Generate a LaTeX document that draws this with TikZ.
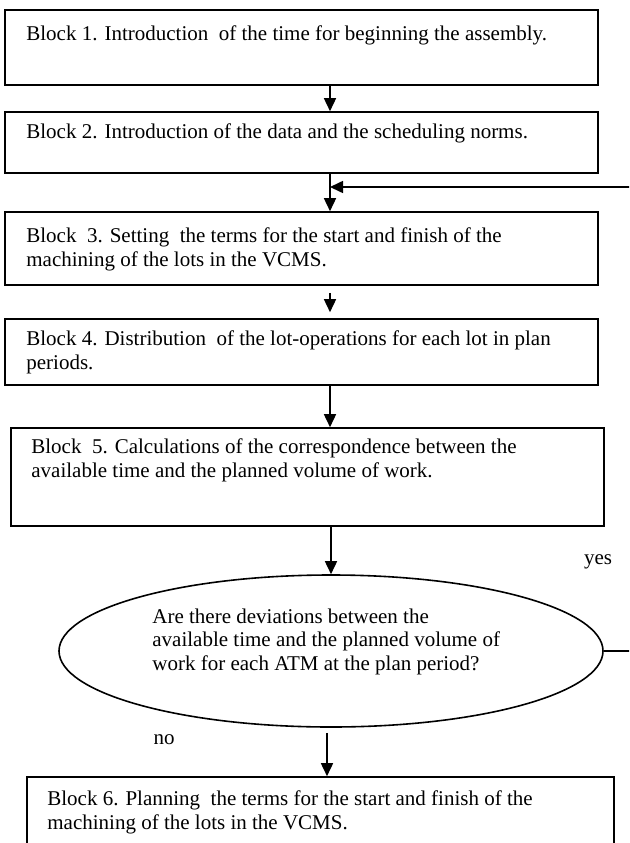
\documentclass[tikz,border=0pt]{standalone}
\usepackage{fontspec}
\setmainfont{Liberation Serif}
\usetikzlibrary{shapes.geometric,arrows.meta,positioning,calc}

\begin{document}
\begin{tikzpicture}[
  x=1pt, y=-1pt,
  font=\fontsize{21}{23.5}\selectfont,
  box/.style={rectangle, draw=black, line width=1.6pt, inner sep=0pt},
  txt/.style={anchor=north west, align=left, inner sep=0pt},
  dec/.style={ellipse, draw=black, line width=1.6pt, inner sep=0pt},
  arr/.style={-{Triangle[length=13pt,width=12pt]}, line width=1.6pt},
  lab/.style={inner sep=0pt},
]
\newcommand{\blocktxt}[4]{% name, xshift, yshift, text
  \node[txt] (#1t) at ([xshift=#2,yshift=#3]#1.north west) {#4};}

\clip (0,0) rectangle (629,843);
\coordinate (axis) at (330,0);

% ---------- blocks ----------
\node[box, minimum width=593, minimum height=75] (b1) at (301.5,47.5) {};
\blocktxt{b1}{22pt}{-16.5pt}{Block 1. Introduction~ of the time for beginning the assembly.}
\node[box, minimum width=593, minimum height=61] (b2) at (301.5,142.5) {};
\blocktxt{b2}{22pt}{-12.5pt}{Block 2. Introduction of the data and the scheduling norms.}
\node[box, minimum width=593, minimum height=73] (b3) at (301.5,248.5) {};
\blocktxt{b3}{22pt}{-16.5pt}{Block~ 3. Setting~ the terms for the start and finish of the\\machining of the lots in the VCMS.}
\node[box, minimum width=593, minimum height=66] (b4) at (301.5,352) {};
\blocktxt{b4}{22pt}{-12.5pt}{Block 4. Distribution~ of the lot-operations for each lot in plan\\periods.}
\node[box, minimum width=593, minimum height=98] (b5) at (307.5,477) {};
\blocktxt{b5}{21pt}{-11.5pt}{Block~ 5. Calculations of the correspondence between the\\available time and the planned volume of work.}
% ---------- decision ----------
\node[dec, minimum width=544, minimum height=152] (q) at (331,651) {};
\node[txt] (qt) at ([xshift=94pt,yshift=42.5pt]q.west) {Are there deviations between the\\available time and the planned volume of\\work for each ATM at the plan period?};
\node[lab] (yes) at (598,562) {yes};
\node[lab] (no) at (164,740) {no};
% ---------- last block ----------
\node[box, minimum width=587, minimum height=103] (b6) at (320.5,828.5) {};
\blocktxt{b6}{21pt}{-14.5pt}{Block 6. Planning~ the terms for the start and finish of the\\machining of the lots in the VCMS.}
\coordinate (loop) at (645,187);

% ---------- arrows ----------
\draw[arr] (b1.south -| axis) -- (b2.north -| axis);
\draw[arr] (b2.south -| axis) -- (b3.north -| axis);
\draw[arr] ([yshift=-7pt]b3.south -| axis) -- ([yshift=6pt]b4.north -| axis);
\draw[arr] (b4.south -| axis) -- (b5.north -| axis);
\draw[arr] (b5.south -| q.north) -- (q.north);
\draw[arr] (q.east) -| (loop) -- (loop -| axis);
\draw[arr] ([xshift=-4pt,yshift=-5pt]q.south) -- ([xshift=-4pt]q.south |- b6.north);
\end{tikzpicture}
\end{document}
